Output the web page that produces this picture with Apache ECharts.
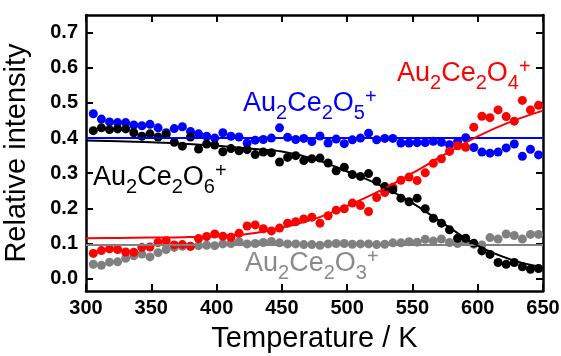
<!DOCTYPE html>
<html><head><meta charset="utf-8">
<script src="https://cdn.jsdelivr.net/npm/echarts@6/dist/echarts.min.js"></script>
<style>html,body{margin:0;padding:0;background:#fff}#c{width:561px;height:356px}</style>
</head><body><div id="c"></div>
<script>
// Temperatures (K)
var temps = [305.6,311.8,318.0,324.2,330.4,336.6,342.8,349.0,355.2,361.4,367.6,373.8,380.0,386.2,392.4,398.6,404.8,411.0,417.2,423.4,429.6,435.8,442.0,448.2,454.4,460.6,466.8,473.0,479.2,485.4,491.6,497.8,504.0,510.2,516.4,522.6,528.8,535.0,541.2,547.4,553.6,559.8,566.0,572.2,578.4,584.6,590.8,597.0,603.2,609.4,615.6,621.8,628.0,634.2,640.4,646.6];
// Au2Ce2O5+ (blue)
var o5 = [0.469,0.454,0.446,0.444,0.444,0.437,0.435,0.439,0.429,0.415,0.427,0.432,0.419,0.412,0.405,0.400,0.415,0.405,0.403,0.386,0.394,0.396,0.400,0.429,0.402,0.396,0.399,0.390,0.406,0.386,0.397,0.384,0.395,0.400,0.414,0.395,0.399,0.399,0.386,0.386,0.387,0.387,0.391,0.388,0.381,0.390,0.401,0.373,0.360,0.357,0.360,0.372,0.383,0.348,0.368,0.352];
// Au2Ce2O6+ (black)
var o6 = [0.421,0.429,0.424,0.426,0.426,0.415,0.405,0.412,0.403,0.410,0.388,0.377,0.403,0.369,0.383,0.380,0.361,0.370,0.364,0.367,0.353,0.360,0.358,0.332,0.345,0.350,0.336,0.341,0.343,0.329,0.307,0.317,0.296,0.291,0.299,0.277,0.262,0.253,0.229,0.219,0.229,0.199,0.172,0.158,0.139,0.115,0.115,0.101,0.079,0.069,0.046,0.041,0.046,0.034,0.027,0.029];
// Au2Ce2O4+ (red)
var o4 = [0.072,0.080,0.085,0.083,0.076,0.075,0.089,0.090,0.103,0.108,0.096,0.097,0.092,0.114,0.120,0.127,0.121,0.118,0.129,0.150,0.153,0.142,0.136,0.144,0.158,0.162,0.170,0.175,0.158,0.179,0.195,0.199,0.215,0.208,0.191,0.231,0.245,0.260,0.280,0.289,0.279,0.301,0.328,0.341,0.362,0.378,0.374,0.431,0.462,0.458,0.480,0.461,0.448,0.507,0.480,0.493];
// Au2Ce2O3+ (gray)
var o3 = [0.041,0.038,0.047,0.048,0.058,0.065,0.070,0.062,0.074,0.083,0.089,0.092,0.092,0.094,0.095,0.094,0.099,0.100,0.105,0.099,0.100,0.103,0.106,0.102,0.099,0.099,0.097,0.097,0.095,0.099,0.100,0.100,0.098,0.099,0.099,0.097,0.098,0.102,0.102,0.105,0.104,0.112,0.107,0.113,0.103,0.100,0.107,0.098,0.096,0.117,0.113,0.127,0.123,0.113,0.126,0.126];

// Fit curves
var fitT = [300,325,350,375,400,425,450,475,500,525,550,575,600,625,650];
var fitO6 = [0.393,0.391,0.388,0.384,0.378,0.370,0.362,0.340,0.305,0.266,0.215,0.154,0.094,0.055,0.032];
var fitO4 = [0.115,0.116,0.117,0.118,0.121,0.128,0.145,0.170,0.207,0.250,0.300,0.354,0.405,0.446,0.478];
var flatT = [300,650];
var fitO5 = [0.400,0.400];
var fitO3 = [0.096,0.096];

var xTicks = [300,350,400,450,500,550,600,650];
var yTicks = [0.0,0.1,0.2,0.3,0.4,0.5,0.6,0.7];

var FONT = "Arial, 'Liberation Sans', sans-serif";
function pairs(xs, ys){ return xs.map(function(x,i){ return [x, ys[i]]; }); }

var chart = echarts.init(document.getElementById('c'), null, {renderer:'canvas'});

var ctx = document.createElement('canvas').getContext('2d');
function textW(t, size){ ctx.font = size + 'px ' + FONT; return ctx.measureText(t).width; }

// chemical label: parts [text, kind]
function chemLabel(parts, x0, base, color){
  var F = 27, S = 20, children = [], x = x0;
  parts.forEach(function(p){
    var sz = p[1] === 'n' ? F : S;
    var b = base + (p[1] === 'sub' ? 7 : (p[1] === 'sup' ? -9 : 0));
    children.push({type:'text', style:{text:p[0], x:x, y:b - 0.3465*sz, font: sz + 'px ' + FONT, fill:color, align:'left', verticalAlign:'middle'}});
    x += textW(p[0], sz);
  });
  return {type:'group', children:children, z:100};
}
function formula(n){ return [['Au','n'],['2','sub'],['Ce','n'],['2','sub'],['O','n'],[n,'sub'],['+','sup']]; }

var axisLine = {show:true, onZero:false, lineStyle:{color:'#000', width:2.5}};
var tick = {show:true, inside:true, length:7, lineStyle:{color:'#000', width:2}};
var dot = function(c){ return {color:c, opacity:1}; };

chart.setOption({
  animation:false,
  grid:{left:86, right:18, top:15, bottom:65, containLabel:false, outerBoundsMode:'none'},
  xAxis:[
    {type:'value', min:300, max:650, interval:50, position:'bottom', axisLine:axisLine, axisTick:tick,
     splitLine:{show:false},
     axisLabel:{color:'#000', fontWeight:'bold', fontSize:20, fontFamily:FONT, margin:7, customValues:xTicks},
     name:'Temperature / K', nameLocation:'middle', nameGap:33,
     nameTextStyle:{color:'#000', fontSize:29, fontFamily:FONT}},
    {type:'value', min:300, max:650, interval:50, position:'top', axisLine:axisLine, axisTick:tick,
     splitLine:{show:false}, axisLabel:{show:false}}
  ],
  yAxis:[
    {type:'value', min:-0.035, max:0.75, position:'left', axisLine:axisLine,
     axisTick:Object.assign({}, tick, {customValues:yTicks}),
     splitLine:{show:false},
     axisLabel:{color:'#000', fontWeight:'bold', fontSize:20, fontFamily:FONT, margin:8, customValues:yTicks,
       formatter:function(v){ return v.toFixed(1); }},
     name:'Relative intensity', nameLocation:'middle', nameGap:55, nameRotate:90,
     nameTextStyle:{color:'#000', fontSize:29, fontFamily:FONT}},
    {type:'value', min:-0.035, max:0.75, position:'right', axisLine:axisLine,
     axisTick:Object.assign({}, tick, {customValues:yTicks}),
     splitLine:{show:false}, axisLabel:{show:false}}
  ],
  series:[
    {type:'scatter', data:pairs(temps,o3), symbolSize:9, itemStyle:dot('#808080')},
    {type:'scatter', data:pairs(temps,o5), symbolSize:9, itemStyle:dot('#0000ff')},
    {type:'scatter', data:pairs(temps,o4), symbolSize:9, itemStyle:dot('#ff0000')},
    {type:'scatter', data:pairs(temps,o6), symbolSize:9, itemStyle:dot('#000000')},
    {type:'line', data:pairs(flatT,fitO3), showSymbol:false, lineStyle:{color:'#808080', width:2}},
    {type:'line', data:pairs(flatT,fitO5), showSymbol:false, lineStyle:{color:'#0000ff', width:2}},
    {type:'line', data:pairs(fitT,fitO4), smooth:0.4, showSymbol:false, lineStyle:{color:'#ff0000', width:2}},
    {type:'line', data:pairs(fitT,fitO6), smooth:0.4, showSymbol:false, lineStyle:{color:'#000000', width:2}}
  ],
  graphic:[
    chemLabel(formula('5'), 243, 113, '#0000ff'),
    chemLabel(formula('4'), 397, 83, '#ff0000'),
    chemLabel(formula('6'), 93, 187, '#000000'),
    chemLabel(formula('3'), 245, 273, '#8a8a8a')
  ]
});
</script></body></html>
